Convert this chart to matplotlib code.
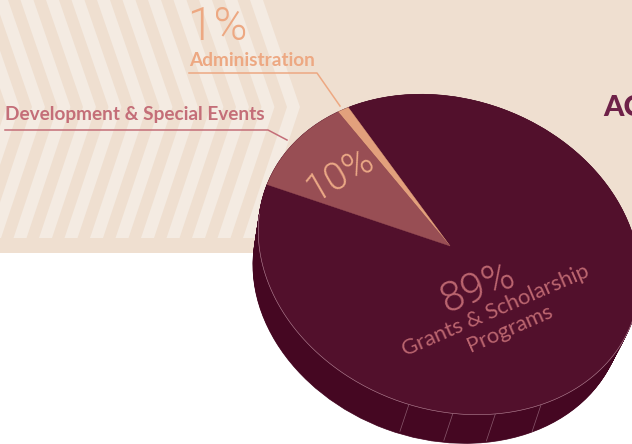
import numpy as np
import matplotlib
matplotlib.use("Agg")
import matplotlib.pyplot as plt
from matplotlib.patches import Polygon, Rectangle, Ellipse

categories = ["Grants & Scholarship Programs", "Development & Special Events", "Administration"]
shares = [89, 10, 1]
share_labels = ["89%", "10%", "1%"]
slice_colors = ["#52102C", "#984E54", "#E2A07C"]

BEIGE = "#EFDFD0"
STRIPE = "#F4EBE2"
SIDE = "#450722"
ORANGE = "#EDA882"
ROSE = "#C46E78"
PIE_TXT = "#BC6670"

fig = plt.figure(figsize=(6.32, 4.44), dpi=100, facecolor="white")
ax = fig.add_axes([0, 0, 1, 1])
ax.set_xlim(0, 632)
ax.set_ylim(444, 0)
ax.axis("off")

# background panel
ax.add_patch(Rectangle((0, 0), 632, 253, fc=BEIGE, ec="none", zorder=0))
clip = Rectangle((0, 0), 632, 238, transform=ax.transData)
for k in range(13):
    xr = 300 - 25.5 * k
    w = 13
    pts = [(xr - 37, 0), (xr, 107), (xr - 44, 238), (xr - 44 - w, 238), (xr - w, 107), (xr - 37 - w, 0)]
    poly = Polygon(pts, closed=True, fc=STRIPE, ec="none", zorder=1)
    ax.add_patch(poly)
    poly.set_clip_path(clip)

# tilted pie geometry
cx, cy = 449.0, 254.5
a, b = 195.0, 155.0
phi = np.radians(20)
apex = (450.0, 246.0)


def rim(t_deg, dx=0.0, dy=0.0):
    t = np.radians(t_deg)
    u, v = a * np.cos(t), b * np.sin(t)
    return (cx + dx + u * np.cos(phi) - v * np.sin(phi),
            cy + dy + u * np.sin(phi) + v * np.cos(phi))


# extruded side: the lower face is slightly smaller and shifted
for d in np.linspace(0, 1, 40):
    s = 1 - 0.03 * d
    ax.add_patch(Ellipse((cx - 11 * d, cy + 33.5 * d), 2 * a * s, 2 * b * s, angle=20,
                         fc=SIDE, ec=SIDE, lw=0.5, zorder=2))

# seams on the side
for t in [86, 72.7, 59.8, 45]:
    x0, y0 = rim(t)
    x1, y1 = rim(t, -9, 27)
    ax.plot([x0, x1], [y0, y1], color="#8A5A6E", lw=0.5, zorder=3)

# top slices, driven by the shares (the tilt stretches the small ones a little)
start = 222.0
per_pct = 3.7
b1 = start - per_pct * shares[2]
b2 = b1 - per_pct * shares[1]
order = [(0, start, b2 + 360), (2, b1, start), (1, b2, b1)]
for idx, t0, t1 in order:
    ts = np.linspace(t0, t1, 240)
    xs, ys = rim(ts)
    pts = np.column_stack([np.r_[apex[0], xs], np.r_[apex[1], ys]])
    ax.add_patch(Polygon(pts, closed=True, fc=slice_colors[idx], ec=slice_colors[idx],
                         lw=0.3, zorder=4))

# thin highlight along the lower rim
ts = np.linspace(-5, 170, 200)
xs, ys = rim(ts)
ax.plot(xs, ys, color="#B98A9B", lw=0.4, zorder=5)

# callouts
FF = ["Lato", "DejaVu Sans"]
LIGHT = ["Roboto", "DejaVu Sans"]
ax.plot([189, 317, 340], [73, 73, 106], color=ORANGE, lw=1.1, zorder=3)
ax.plot([5, 268, 287], [130, 130, 140], color=ROSE, lw=1.1, zorder=3)
ax.text(188, 40, share_labels[2], color=ORANGE, fontsize=33, family=LIGHT, weight=300,
        ha="left", va="baseline", zorder=6)
ax.text(189, 66, categories[2], color=ORANGE, fontsize=13.7, family=FF, weight="bold",
        ha="left", va="baseline", zorder=6)
ax.text(5, 120, categories[1], color=ROSE, fontsize=13.7, family=FF, weight="bold",
        ha="left", va="baseline", zorder=6)
ax.text(603, 116, "AC", color="#6E2148", fontsize=21, family=FF, weight=900,
        ha="left", va="baseline", zorder=6, clip_on=True)

# labels on the pie
ax.text(340, 175, share_labels[1], color="#EBA886", fontsize=28, family=LIGHT, weight=300,
        rotation=30, rotation_mode="anchor", ha="center", va="center", zorder=6)
ax.text(478, 288, share_labels[0], color=PIE_TXT, fontsize=30, family=LIGHT, weight=300,
        rotation=22, rotation_mode="anchor", ha="center", va="center", zorder=6)
ax.text(496, 311, "Grants & Scholarship", color=PIE_TXT, fontsize=15.8, family=FF,
        rotation=23.5, rotation_mode="anchor", ha="center", va="center", zorder=6)
ax.text(510, 329, "Programs", color=PIE_TXT, fontsize=15.8, family=FF,
        rotation=23.5, rotation_mode="anchor", ha="center", va="center", zorder=6)

fig.savefig("out.png", dpi=100, facecolor="white")
